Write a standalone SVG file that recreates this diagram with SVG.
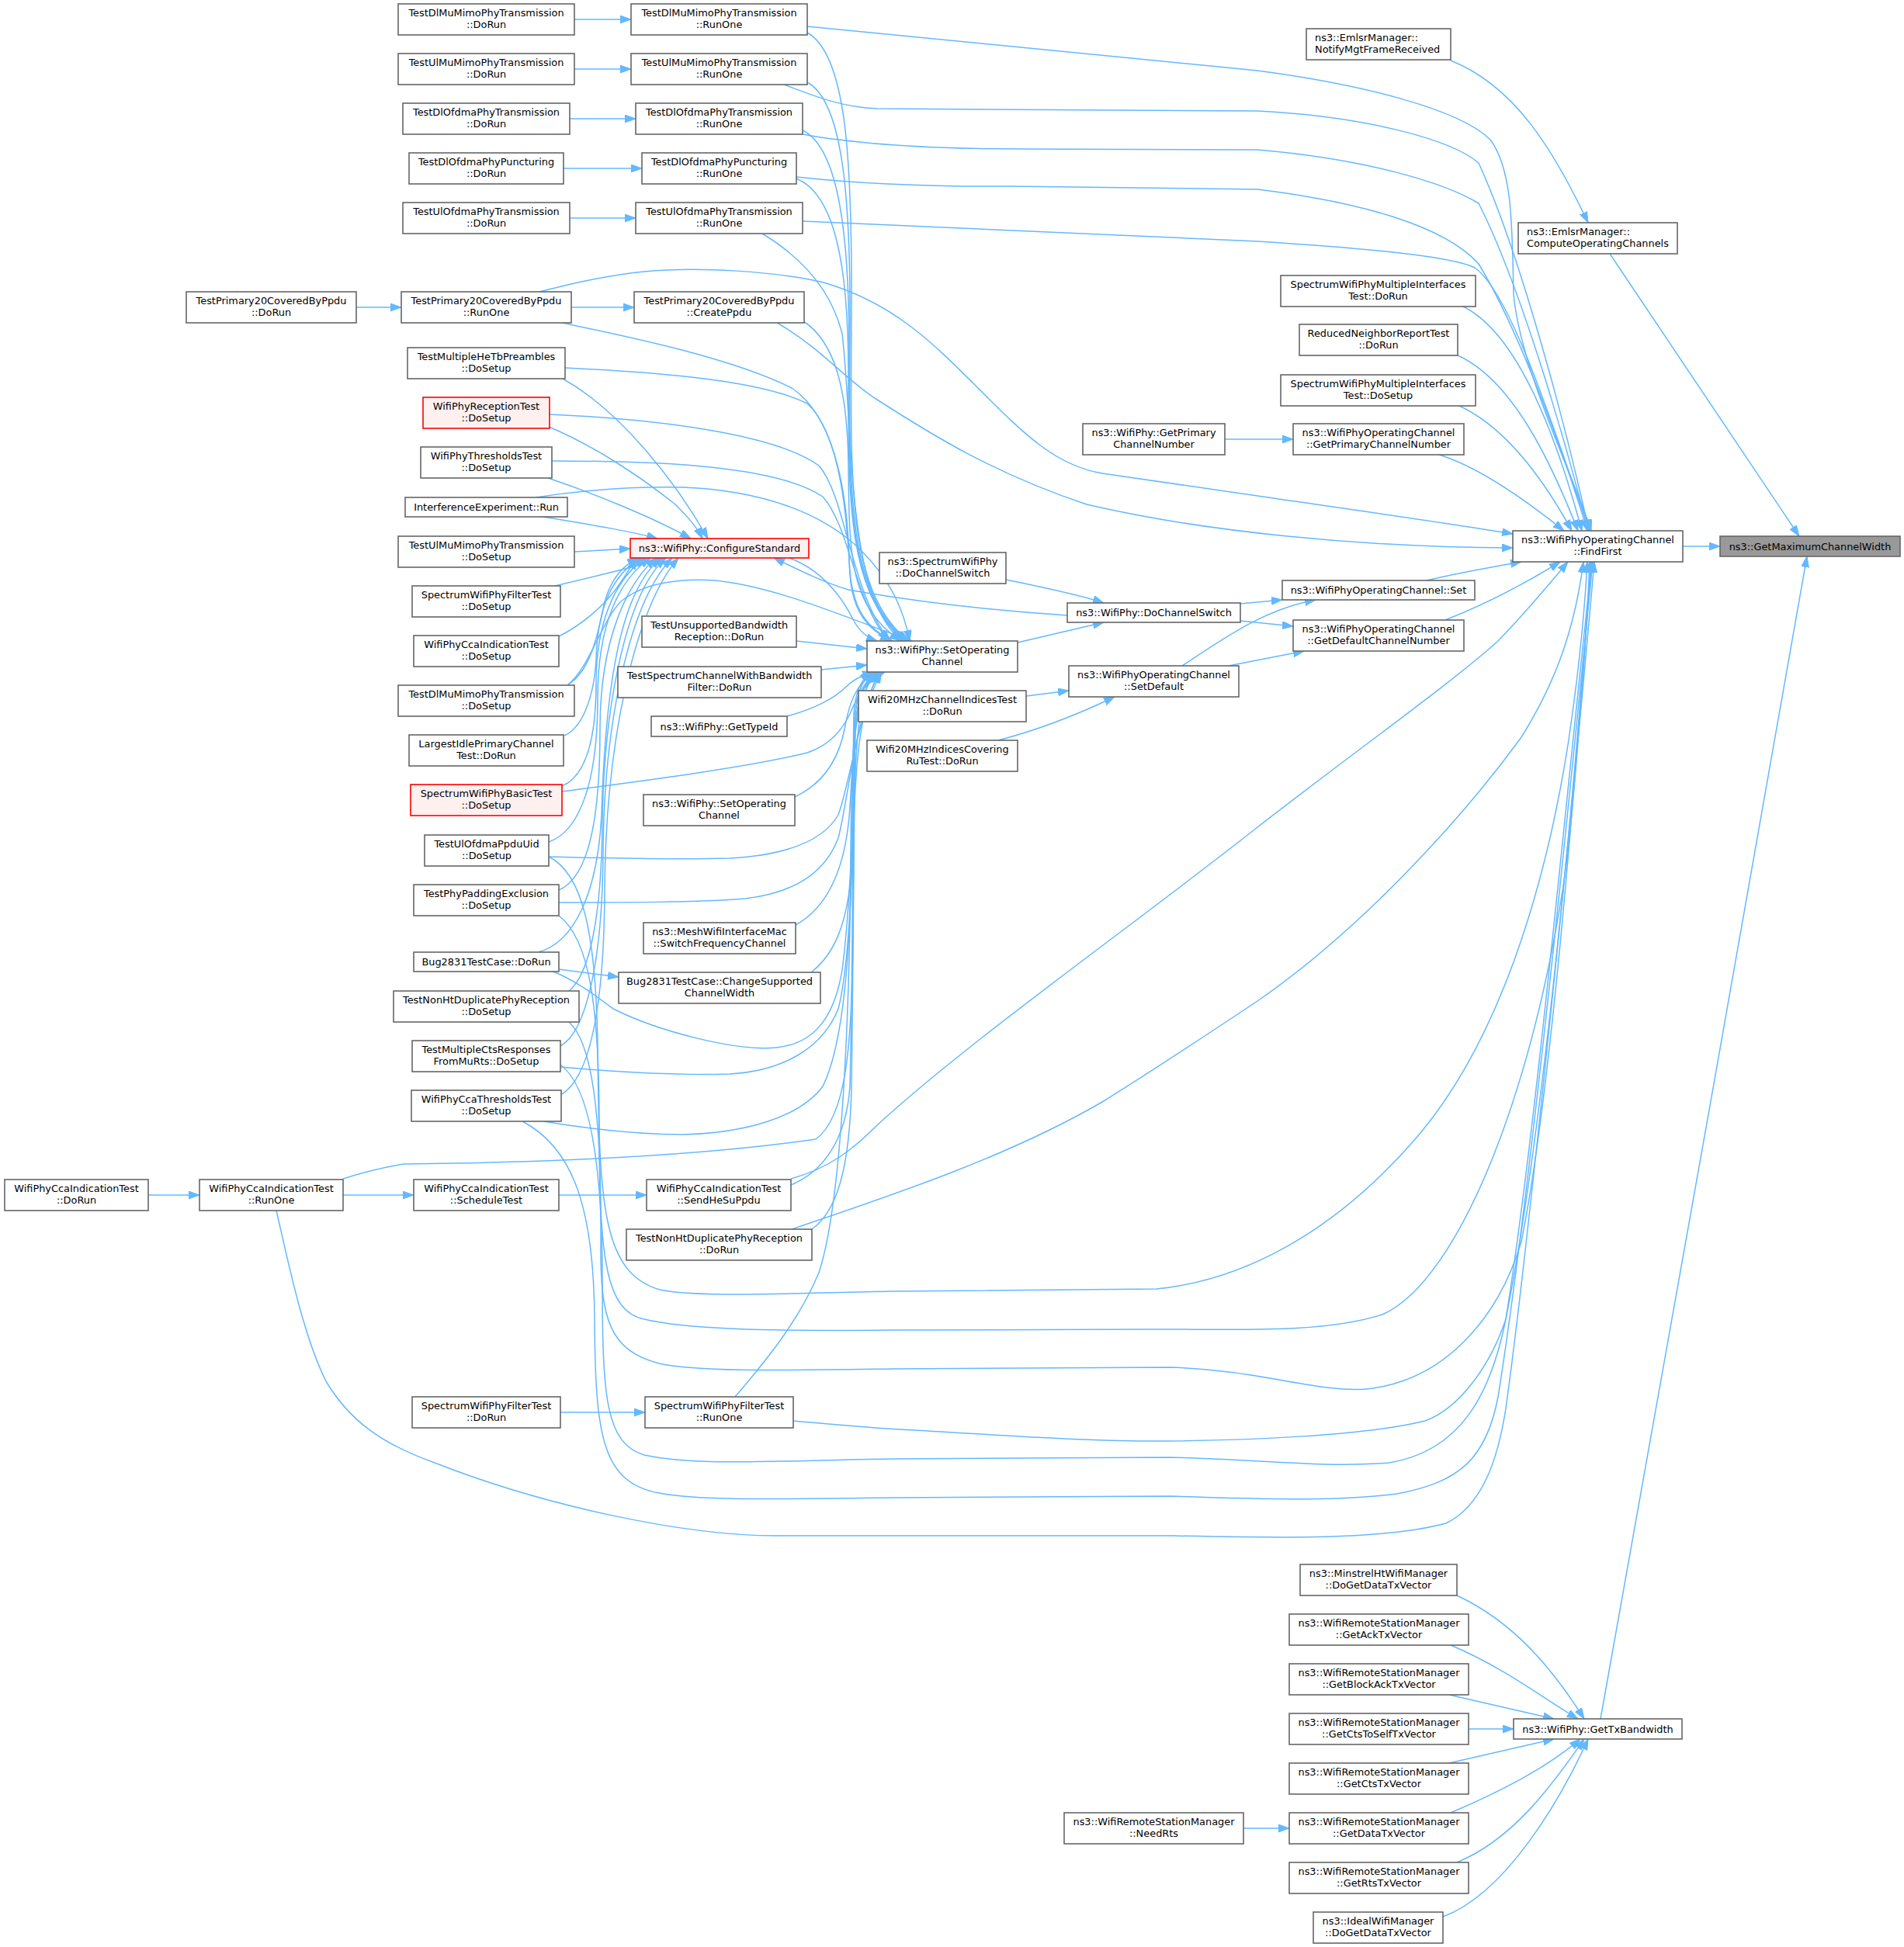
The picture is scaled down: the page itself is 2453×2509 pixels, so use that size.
<svg xmlns="http://www.w3.org/2000/svg" width="2453" height="2509" viewBox="0 0 2453 2509">
<defs>
<style>
.n rect{fill:#ffffff;stroke:#666666;stroke-width:1.6}
.r rect{fill:#fff0f0;stroke:#ff0000;stroke-width:1.6}
.g rect{fill:#999999;stroke:#666666;stroke-width:1.6}
text{font-family:"DejaVu Sans","Liberation Sans",sans-serif;font-size:12.9px;fill:#000000;text-anchor:middle}
text.l{text-anchor:start}
#edges path{fill:none;stroke:#63b8ff;stroke-width:1.5;marker-end:url(#a)}
</style>
<marker id="a" markerUnits="userSpaceOnUse" markerWidth="16" markerHeight="12" refX="14" refY="5" orient="auto">
<path d="M0,0 L14,5 L0,10 z" fill="#63b8ff" stroke="#63b8ff" stroke-width="1"/>
</marker>
</defs>
<rect width="2453" height="2509" fill="#ffffff"/>
<g id="edges">
<path d="M2168,704 L2216,704"/>
<path d="M2074,327 C2150,440 2250,590 2318,691"/>
<path d="M2062,2215 C2120,1900 2260,1100 2328,717"/>
<path d="M1869,78 C1950,110 2000,190 2046,287"/>
<path d="M1877,2056 C1950,2090 2000,2150 2041,2215"/>
<path d="M1869,2120 C1940,2150 1990,2190 2033,2215"/>
<path d="M1867,2184 L2002,2215"/>
<path d="M1892,2228 L1950,2228"/>
<path d="M1867,2272 L2002,2241"/>
<path d="M1869,2336 C1930,2310 1990,2280 2036,2241"/>
<path d="M1877,2400 C1950,2370 2000,2300 2041,2241"/>
<path d="M1859,2470 C1940,2440 2010,2320 2046,2241"/>
<path d="M1602,2356 L1661,2356"/>
<path d="M1578,566 L1666,566"/>
<path d="M1296,747 C1340,756 1390,766 1422,777"/>
<path d="M1311,828 L1422,802"/>
<path d="M1598,778 L1652,773"/>
<path d="M1598,800 L1666,807"/>
<path d="M1523,858 C1580,820 1630,785 1695,773"/>
<path d="M1583,858 L1680,839"/>
<path d="M1322,897 L1377,890"/>
<path d="M1286,954 C1340,940 1390,920 1436,898"/>
<path d="M1838,748 C1880,738 1920,731 1960,724"/>
<path d="M1862,799 C1910,780 1960,755 2010,724"/>
<path d="M1854,586 C1900,600 1960,640 2015,684"/>
<path d="M1878,522 C1940,550 1990,620 2025,684"/>
<path d="M1878,458 C1950,490 2000,600 2033,684"/>
<path d="M1883,394 C1960,430 2010,580 2038,684"/>
<path d="M1040,34 L1620,91 C1750,108 1880,140 1920,180 C1950,220 1948,300 1950,380 C1960,480 2030,620 2050,684"/>
<path d="M1010,109 C1040,120 1080,138 1130,140 C1300,142 1500,141 1620,143 C1760,150 1870,180 1905,210 C1960,330 2020,560 2047,684"/>
<path d="M1034,173 C1100,185 1200,192 1320,192 L1620,193 C1760,205 1860,235 1905,262 C1960,370 2020,580 2046,684"/>
<path d="M1026,228 C1100,236 1180,241 1300,240 L1620,244 C1750,260 1860,290 1905,340 C1960,430 2020,600 2045,684"/>
<path d="M1034,285 L1620,311 C1760,320 1870,330 1900,345 C1950,380 2010,580 2048,684"/>
<path d="M695,376 C740,365 780,355 830,350 C900,343 1000,350 1061,364 C1150,390 1200,440 1260,500 C1320,560 1360,600 1420,610 L1620,639 C1750,658 1880,676 1949,688"/>
<path d="M1001,416 C1060,450 1090,490 1130,515 C1200,560 1280,610 1400,650 C1550,685 1750,705 1949,706"/>
<path d="M459,396 L517,396"/>
<path d="M740,25 L813,25"/>
<path d="M740,89 L813,89"/>
<path d="M734,153 L819,153"/>
<path d="M726,217 L827,217"/>
<path d="M734,281 L819,281"/>
<path d="M736,396 L817,396"/>
<path d="M1040,42 C1090,70 1098,200 1097,400 C1096,620 1090,760 1170,826"/>
<path d="M1040,106 C1085,130 1096,250 1095,420 C1094,630 1090,760 1168,826"/>
<path d="M1034,168 C1080,190 1094,300 1094,450 C1094,640 1090,760 1166,826"/>
<path d="M1026,230 C1075,250 1093,340 1093,480 C1093,650 1092,760 1164,826"/>
<path d="M982,301 C1030,330 1070,370 1085,430 C1100,560 1090,770 1162,826"/>
<path d="M1035,414 C1075,440 1092,500 1093,600 C1094,720 1095,780 1160,826"/>
<path d="M724,416 C800,432 940,460 1020,500 C1080,540 1092,650 1094,720 C1096,790 1120,810 1150,826"/>
<path d="M728,474 C850,480 980,490 1040,520 C1085,560 1092,680 1095,740 C1098,790 1120,812 1148,826"/>
<path d="M707,534 C850,540 1000,560 1055,600 C1090,640 1095,760 1146,826"/>
<path d="M711,594 C850,594 1000,600 1060,640 C1095,680 1100,770 1144,826"/>
<path d="M690,641 C760,630 820,627 880,628 C980,632 1060,660 1110,710 C1150,750 1165,790 1172,826"/>
<path d="M731,883 C760,860 775,800 800,775 C830,750 880,745 920,748 C1000,755 1100,800 1175,826"/>
<path d="M1017,719 C1060,735 1085,770 1100,800 C1108,815 1118,822 1130,826"/>
<path d="M1375,793 C1250,785 1150,770 1093,760 C1060,750 1030,735 997,719"/>
<path d="M725,488 C800,530 870,620 912,694"/>
<path d="M707,550 C760,572 820,610 870,650 C885,665 897,678 905,694"/>
<path d="M706,616 C760,634 840,666 890,694"/>
<path d="M699,666 C760,676 810,684 847,694"/>
<path d="M740,711 L812,707"/>
<path d="M715,755 C770,742 820,730 858,719"/>
<path d="M720,820 C750,805 780,780 800,750 C810,735 815,728 818,719"/>
<path d="M732,882 C760,865 770,820 778,780 C785,750 800,730 822,719"/>
<path d="M727,948 C750,938 765,900 768,850 C770,780 790,740 826,719"/>
<path d="M724,1013 C755,1000 768,950 768,880 C768,790 800,740 832,719"/>
<path d="M707,1085 C750,1070 770,1000 770,900 C770,800 800,745 838,719"/>
<path d="M720,1147 C760,1130 773,1050 773,940 C773,820 810,750 845,719"/>
<path d="M693,1227 C740,1215 770,1150 775,1050 C780,880 800,760 852,719"/>
<path d="M733,1277 C760,1255 775,1180 776,1060 C778,900 810,760 858,719"/>
<path d="M722,1348 C755,1330 776,1240 777,1100 C778,920 815,770 866,719"/>
<path d="M722,1411 C760,1390 778,1300 779,1150 C780,950 820,780 874,719"/>
<path d="M707,1104 C750,1125 768,1200 770,1350 C772,1550 775,1640 850,1662 C900,1672 1000,1667 1150,1664 L1490,1661 C1600,1650 1720,1590 1830,1460 C1930,1340 1990,1150 2020,960 C2035,860 2042,780 2045,724"/>
<path d="M720,1180 C760,1210 772,1300 772,1450 C772,1620 780,1690 830,1700 C880,1712 980,1716 1150,1714 L1479,1713 C1580,1712 1700,1720 1781,1694 C1880,1650 1980,1400 2020,1100 C2035,950 2045,800 2048,724"/>
<path d="M733,1317 C765,1345 775,1450 774,1600 C773,1700 785,1740 849,1757 C900,1768 1000,1766 1150,1764 L1507,1762 C1620,1765 1700,1795 1760,1790 C1860,1780 1930,1700 1960,1600 C2000,1400 2030,1000 2050,724"/>
<path d="M722,1372 C760,1400 776,1500 776,1650 C776,1800 780,1860 830,1875 C900,1890 1000,1882 1150,1880 L1507,1878 C1620,1880 1700,1892 1790,1885 C1880,1870 1920,1800 1940,1700 C1980,1450 2020,1000 2051,724"/>
<path d="M673,1445 C740,1480 765,1560 766,1700 C767,1850 775,1910 849,1924 C900,1934 1000,1932 1150,1930 L1507,1928 C1620,1932 1720,1935 1800,1925 C1880,1910 1915,1880 1930,1800 C1970,1550 2020,1050 2052,724"/>
<path d="M356,1560 C370,1620 390,1720 420,1780 C450,1830 490,1860 560,1885 C700,1940 880,1979 1000,1979 L1507,1979 C1650,1982 1780,1985 1863,1963 C1910,1940 1930,1880 1940,1815 C1970,1600 2030,1000 2054,724"/>
<path d="M1022,1831 C1080,1836 1120,1840 1160,1842 C1300,1850 1400,1857 1479,1857 C1600,1857 1760,1850 1836,1831 C1880,1815 1920,1760 1940,1700 C1990,1450 2030,1000 2050,724"/>
<path d="M947,1800 C990,1750 1030,1700 1055,1640 C1085,1550 1095,1300 1096,1100 C1097,950 1100,900 1125,866"/>
<path d="M1019,1519 C1070,1505 1100,1480 1130,1450 C1250,1340 1450,1200 1620,1066 C1750,965 1870,880 1930,826 C1960,795 1990,760 2020,724"/>
<path d="M1019,1527 C1060,1510 1090,1470 1095,1400 C1100,1200 1098,1000 1100,920 C1102,890 1110,875 1122,866"/>
<path d="M1020,1584 C1150,1540 1300,1490 1420,1420 C1500,1370 1560,1330 1620,1290 C1750,1200 1880,1060 1960,950 C2010,870 2030,800 2040,724"/>
<path d="M1046,1584 C1080,1560 1095,1500 1097,1400 C1100,1200 1100,980 1102,920 C1104,890 1112,875 1125,866"/>
<path d="M442,1519 C470,1510 490,1505 520,1500 C700,1498 900,1490 1051,1468 C1090,1440 1098,1350 1099,1200 C1100,1000 1100,900 1127,866"/>
<path d="M700,1445 C760,1455 820,1462 880,1462 C960,1460 1030,1440 1060,1400 C1090,1340 1097,1200 1098,1050 C1099,940 1100,890 1128,866"/>
<path d="M722,1375 C800,1382 880,1386 940,1384 C1010,1380 1060,1350 1080,1300 C1098,1230 1100,1050 1100,950 C1100,900 1110,880 1130,866"/>
<path d="M710,1251 C740,1262 770,1285 790,1300 C850,1330 950,1355 1000,1350 C1050,1345 1075,1310 1085,1250 C1098,1150 1100,1000 1102,940 C1104,900 1112,880 1132,866"/>
<path d="M720,1163 C800,1163 900,1163 960,1158 C1030,1150 1065,1120 1080,1080 C1095,1020 1100,930 1133,866"/>
<path d="M707,1104 C780,1106 870,1108 940,1106 C1010,1102 1060,1085 1080,1050 C1095,1010 1105,920 1136,866"/>
<path d="M724,1020 C800,1010 960,990 1040,970 C1070,960 1085,940 1095,920 C1105,895 1120,875 1140,866"/>
<path d="M1014,923 C1050,913 1075,900 1090,885 C1100,875 1110,870 1125,866"/>
<path d="M1024,1027 C1060,1010 1080,980 1088,940 C1095,900 1105,880 1128,866"/>
<path d="M1025,1192 C1065,1170 1090,1120 1095,1040 C1100,960 1100,900 1130,866"/>
<path d="M1045,1253 C1075,1230 1092,1190 1097,1120 C1102,1030 1100,920 1134,866"/>
<path d="M1058,863 L1117,857"/>
<path d="M1026,826 L1117,836"/>
<path d="M720,1249 L797,1259"/>
<path d="M720,1540 L833,1540"/>
<path d="M442,1540 L533,1540"/>
<path d="M191,1540 L257,1540"/>
<path d="M722,1820 L831,1820"/>
</g>
<g id="n0" class="n"><rect x="6" y="1520" width="185" height="40"/><text x="98.5" y="1535.5">WifiPhyCcaIndicationTest</text><text x="98.5" y="1550.5">::DoRun</text></g>
<g id="n1" class="n"><rect x="240" y="376" width="219" height="40"/><text x="349.5" y="391.5">TestPrimary20CoveredByPpdu</text><text x="349.5" y="406.5">::DoRun</text></g>
<g id="n2" class="n"><rect x="257" y="1520" width="185" height="40"/><text x="349.5" y="1535.5">WifiPhyCcaIndicationTest</text><text x="349.5" y="1550.5">::RunOne</text></g>
<g id="n3" class="n"><rect x="513" y="5" width="227" height="40"/><text x="626.5" y="20.5">TestDlMuMimoPhyTransmission</text><text x="626.5" y="35.5">::DoRun</text></g>
<g id="n4" class="n"><rect x="513" y="69" width="227" height="40"/><text x="626.5" y="84.5">TestUlMuMimoPhyTransmission</text><text x="626.5" y="99.5">::DoRun</text></g>
<g id="n5" class="n"><rect x="519" y="133" width="215" height="40"/><text x="626.5" y="148.5">TestDlOfdmaPhyTransmission</text><text x="626.5" y="163.5">::DoRun</text></g>
<g id="n6" class="n"><rect x="527" y="197" width="199" height="40"/><text x="626.5" y="212.5">TestDlOfdmaPhyPuncturing</text><text x="626.5" y="227.5">::DoRun</text></g>
<g id="n7" class="n"><rect x="519" y="261" width="215" height="40"/><text x="626.5" y="276.5">TestUlOfdmaPhyTransmission</text><text x="626.5" y="291.5">::DoRun</text></g>
<g id="n8" class="n"><rect x="517" y="376" width="219" height="40"/><text x="626.5" y="391.5">TestPrimary20CoveredByPpdu</text><text x="626.5" y="406.5">::RunOne</text></g>
<g id="n9" class="n"><rect x="525" y="448" width="203" height="40"/><text x="626.5" y="463.5">TestMultipleHeTbPreambles</text><text x="626.5" y="478.5">::DoSetup</text></g>
<g id="n10" class="r"><rect x="545" y="512" width="163" height="40"/><text x="626.5" y="527.5">WifiPhyReceptionTest</text><text x="626.5" y="542.5">::DoSetup</text></g>
<g id="n11" class="n"><rect x="542" y="576" width="169" height="40"/><text x="626.5" y="591.5">WifiPhyThresholdsTest</text><text x="626.5" y="606.5">::DoSetup</text></g>
<g id="n12" class="n"><rect x="522" y="641" width="209" height="25"/><text x="626.5" y="658">InterferenceExperiment::Run</text></g>
<g id="n13" class="n"><rect x="513" y="691" width="227" height="40"/><text x="626.5" y="706.5">TestUlMuMimoPhyTransmission</text><text x="626.5" y="721.5">::DoSetup</text></g>
<g id="n14" class="n"><rect x="531" y="755" width="191" height="40"/><text x="626.5" y="770.5">SpectrumWifiPhyFilterTest</text><text x="626.5" y="785.5">::DoSetup</text></g>
<g id="n15" class="n"><rect x="533" y="819" width="187" height="40"/><text x="626.5" y="834.5">WifiPhyCcaIndicationTest</text><text x="626.5" y="849.5">::DoSetup</text></g>
<g id="n16" class="n"><rect x="513" y="883" width="227" height="40"/><text x="626.5" y="898.5">TestDlMuMimoPhyTransmission</text><text x="626.5" y="913.5">::DoSetup</text></g>
<g id="n17" class="n"><rect x="527" y="947" width="199" height="40"/><text x="626.5" y="962.5">LargestIdlePrimaryChannel</text><text x="626.5" y="977.5">Test::DoRun</text></g>
<g id="n18" class="r"><rect x="529" y="1011" width="195" height="40"/><text x="626.5" y="1026.5">SpectrumWifiPhyBasicTest</text><text x="626.5" y="1041.5">::DoSetup</text></g>
<g id="n19" class="n"><rect x="547" y="1076" width="160" height="40"/><text x="627" y="1091.5">TestUlOfdmaPpduUid</text><text x="627" y="1106.5">::DoSetup</text></g>
<g id="n20" class="n"><rect x="533" y="1140" width="187" height="40"/><text x="626.5" y="1155.5">TestPhyPaddingExclusion</text><text x="626.5" y="1170.5">::DoSetup</text></g>
<g id="n21" class="n"><rect x="533" y="1227" width="187" height="25"/><text x="626.5" y="1244">Bug2831TestCase::DoRun</text></g>
<g id="n22" class="n"><rect x="507" y="1277" width="239" height="40"/><text x="626.5" y="1292.5">TestNonHtDuplicatePhyReception</text><text x="626.5" y="1307.5">::DoSetup</text></g>
<g id="n23" class="n"><rect x="531" y="1341" width="191" height="40"/><text x="626.5" y="1356.5">TestMultipleCtsResponses</text><text x="626.5" y="1371.5">FromMuRts::DoSetup</text></g>
<g id="n24" class="n"><rect x="530" y="1405" width="193" height="40"/><text x="626.5" y="1420.5">WifiPhyCcaThresholdsTest</text><text x="626.5" y="1435.5">::DoSetup</text></g>
<g id="n25" class="n"><rect x="533" y="1520" width="187" height="40"/><text x="626.5" y="1535.5">WifiPhyCcaIndicationTest</text><text x="626.5" y="1550.5">::ScheduleTest</text></g>
<g id="n26" class="n"><rect x="531" y="1800" width="191" height="40"/><text x="626.5" y="1815.5">SpectrumWifiPhyFilterTest</text><text x="626.5" y="1830.5">::DoRun</text></g>
<g id="n27" class="n"><rect x="813" y="5" width="227" height="40"/><text x="926.5" y="20.5">TestDlMuMimoPhyTransmission</text><text x="926.5" y="35.5">::RunOne</text></g>
<g id="n28" class="n"><rect x="813" y="69" width="227" height="40"/><text x="926.5" y="84.5">TestUlMuMimoPhyTransmission</text><text x="926.5" y="99.5">::RunOne</text></g>
<g id="n29" class="n"><rect x="819" y="133" width="215" height="40"/><text x="926.5" y="148.5">TestDlOfdmaPhyTransmission</text><text x="926.5" y="163.5">::RunOne</text></g>
<g id="n30" class="n"><rect x="827" y="197" width="199" height="40"/><text x="926.5" y="212.5">TestDlOfdmaPhyPuncturing</text><text x="926.5" y="227.5">::RunOne</text></g>
<g id="n31" class="n"><rect x="819" y="261" width="215" height="40"/><text x="926.5" y="276.5">TestUlOfdmaPhyTransmission</text><text x="926.5" y="291.5">::RunOne</text></g>
<g id="n32" class="n"><rect x="817" y="376" width="219" height="40"/><text x="926.5" y="391.5">TestPrimary20CoveredByPpdu</text><text x="926.5" y="406.5">::CreatePpdu</text></g>
<g id="n33" class="r"><rect x="812" y="694" width="230" height="25"/><text x="927" y="711">ns3::WifiPhy::ConfigureStandard</text></g>
<g id="n34" class="n"><rect x="827" y="794" width="199" height="40"/><text x="926.5" y="809.5">TestUnsupportedBandwidth</text><text x="926.5" y="824.5">Reception::DoRun</text></g>
<g id="n35" class="n"><rect x="796" y="859" width="262" height="40"/><text x="927" y="874.5">TestSpectrumChannelWithBandwidth</text><text x="927" y="889.5">Filter::DoRun</text></g>
<g id="n36" class="n"><rect x="839" y="923" width="175" height="26"/><text x="926.5" y="940.5">ns3::WifiPhy::GetTypeId</text></g>
<g id="n37" class="n"><rect x="829" y="1024" width="195" height="40"/><text x="926.5" y="1039.5">ns3::WifiPhy::SetOperating</text><text x="926.5" y="1054.5">Channel</text></g>
<g id="n38" class="n"><rect x="829" y="1189" width="196" height="40"/><text x="927" y="1204.5">ns3::MeshWifiInterfaceMac</text><text x="927" y="1219.5">::SwitchFrequencyChannel</text></g>
<g id="n39" class="n"><rect x="797" y="1253" width="260" height="40"/><text x="927" y="1268.5">Bug2831TestCase::ChangeSupported</text><text x="927" y="1283.5">ChannelWidth</text></g>
<g id="n40" class="n"><rect x="833" y="1520" width="186" height="40"/><text x="926" y="1535.5">WifiPhyCcaIndicationTest</text><text x="926" y="1550.5">::SendHeSuPpdu</text></g>
<g id="n41" class="n"><rect x="807" y="1584" width="239" height="40"/><text x="926.5" y="1599.5">TestNonHtDuplicatePhyReception</text><text x="926.5" y="1614.5">::DoRun</text></g>
<g id="n42" class="n"><rect x="831" y="1800" width="191" height="40"/><text x="926.5" y="1815.5">SpectrumWifiPhyFilterTest</text><text x="926.5" y="1830.5">::RunOne</text></g>
<g id="n43" class="n"><rect x="1133" y="712" width="163" height="40"/><text x="1214.5" y="727.5">ns3::SpectrumWifiPhy</text><text x="1214.5" y="742.5">::DoChannelSwitch</text></g>
<g id="n44" class="n"><rect x="1117" y="826" width="194" height="40"/><text x="1214" y="841.5">ns3::WifiPhy::SetOperating</text><text x="1214" y="856.5">Channel</text></g>
<g id="n45" class="n"><rect x="1106" y="890" width="216" height="40"/><text x="1214" y="905.5">Wifi20MHzChannelIndicesTest</text><text x="1214" y="920.5">::DoRun</text></g>
<g id="n46" class="n"><rect x="1117" y="954" width="194" height="40"/><text x="1214" y="969.5">Wifi20MHzIndicesCovering</text><text x="1214" y="984.5">RuTest::DoRun</text></g>
<g id="n47" class="n"><rect x="1395" y="546" width="183" height="40"/><text x="1486.5" y="561.5">ns3::WifiPhy::GetPrimary</text><text x="1486.5" y="576.5">ChannelNumber</text></g>
<g id="n48" class="n"><rect x="1375" y="777" width="223" height="25"/><text x="1486.5" y="794">ns3::WifiPhy::DoChannelSwitch</text></g>
<g id="n49" class="n"><rect x="1377" y="858" width="219" height="40"/><text x="1486.5" y="873.5">ns3::WifiPhyOperatingChannel</text><text x="1486.5" y="888.5">::SetDefault</text></g>
<g id="n50" class="n"><rect x="1371" y="2336" width="231" height="40"/><text x="1486.5" y="2351.5">ns3::WifiRemoteStationManager</text><text x="1486.5" y="2366.5">::NeedRts</text></g>
<g id="n51" class="n"><rect x="1683" y="37" width="186" height="40"/><text class="l" x="1694" y="52.5">ns3::EmlsrManager::</text><text class="l" x="1694" y="67.5">NotifyMgtFrameReceived</text></g>
<g id="n52" class="n"><rect x="1650" y="355" width="251" height="40"/><text x="1775.5" y="370.5">SpectrumWifiPhyMultipleInterfaces</text><text x="1775.5" y="385.5">Test::DoRun</text></g>
<g id="n53" class="n"><rect x="1674" y="418" width="204" height="40"/><text x="1776" y="433.5">ReducedNeighborReportTest</text><text x="1776" y="448.5">::DoRun</text></g>
<g id="n54" class="n"><rect x="1650" y="483" width="251" height="40"/><text x="1775.5" y="498.5">SpectrumWifiPhyMultipleInterfaces</text><text x="1775.5" y="513.5">Test::DoSetup</text></g>
<g id="n55" class="n"><rect x="1666" y="546" width="220" height="40"/><text x="1776" y="561.5">ns3::WifiPhyOperatingChannel</text><text x="1776" y="576.5">::GetPrimaryChannelNumber</text></g>
<g id="n56" class="n"><rect x="1652" y="748" width="248" height="25"/><text x="1776" y="765">ns3::WifiPhyOperatingChannel::Set</text></g>
<g id="n57" class="n"><rect x="1666" y="799" width="220" height="40"/><text x="1776" y="814.5">ns3::WifiPhyOperatingChannel</text><text x="1776" y="829.5">::GetDefaultChannelNumber</text></g>
<g id="n58" class="n"><rect x="1675" y="2016" width="202" height="40"/><text x="1776" y="2031.5">ns3::MinstrelHtWifiManager</text><text x="1776" y="2046.5">::DoGetDataTxVector</text></g>
<g id="n59" class="n"><rect x="1661" y="2080" width="231" height="40"/><text x="1776.5" y="2095.5">ns3::WifiRemoteStationManager</text><text x="1776.5" y="2110.5">::GetAckTxVector</text></g>
<g id="n60" class="n"><rect x="1661" y="2144" width="231" height="40"/><text x="1776.5" y="2159.5">ns3::WifiRemoteStationManager</text><text x="1776.5" y="2174.5">::GetBlockAckTxVector</text></g>
<g id="n61" class="n"><rect x="1661" y="2208" width="231" height="40"/><text x="1776.5" y="2223.5">ns3::WifiRemoteStationManager</text><text x="1776.5" y="2238.5">::GetCtsToSelfTxVector</text></g>
<g id="n62" class="n"><rect x="1661" y="2272" width="231" height="40"/><text x="1776.5" y="2287.5">ns3::WifiRemoteStationManager</text><text x="1776.5" y="2302.5">::GetCtsTxVector</text></g>
<g id="n63" class="n"><rect x="1661" y="2336" width="231" height="40"/><text x="1776.5" y="2351.5">ns3::WifiRemoteStationManager</text><text x="1776.5" y="2366.5">::GetDataTxVector</text></g>
<g id="n64" class="n"><rect x="1661" y="2400" width="231" height="40"/><text x="1776.5" y="2415.5">ns3::WifiRemoteStationManager</text><text x="1776.5" y="2430.5">::GetRtsTxVector</text></g>
<g id="n65" class="n"><rect x="1692" y="2464" width="167" height="40"/><text x="1775.5" y="2479.5">ns3::IdealWifiManager</text><text x="1775.5" y="2494.5">::DoGetDataTxVector</text></g>
<g id="n66" class="n"><rect x="1956" y="287" width="205" height="40"/><text class="l" x="1967" y="302.5">ns3::EmlsrManager::</text><text class="l" x="1967" y="317.5">ComputeOperatingChannels</text></g>
<g id="n67" class="n"><rect x="1949" y="684" width="219" height="40"/><text x="2058.5" y="699.5">ns3::WifiPhyOperatingChannel</text><text x="2058.5" y="714.5">::FindFirst</text></g>
<g id="n68" class="n"><rect x="1950" y="2215" width="217" height="26"/><text x="2058.5" y="2232.5">ns3::WifiPhy::GetTxBandwidth</text></g>
<g id="n69" class="g"><rect x="2216" y="691" width="232" height="26"/><text x="2332" y="708.5">ns3::GetMaximumChannelWidth</text></g>
</svg>
